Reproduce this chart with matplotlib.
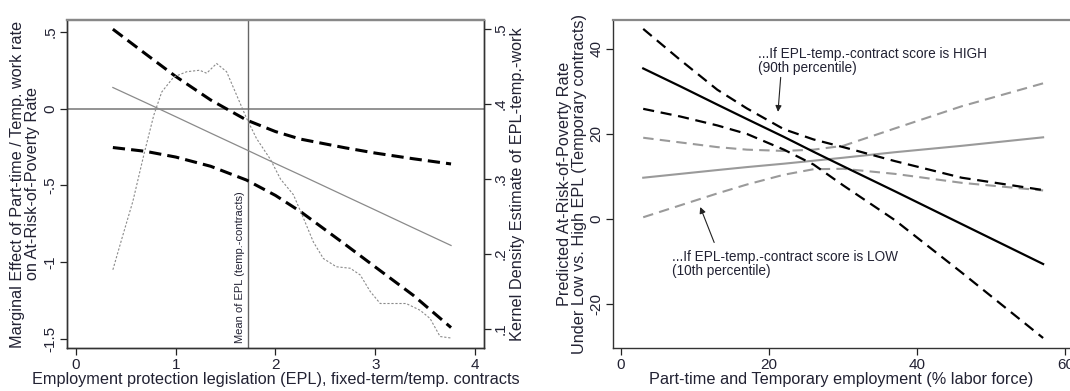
"""Two-panel marginal effect / predicted value figure (Stata-like look)."""

import numpy as np
import matplotlib as mpl
import matplotlib.pyplot as plt

mpl.rcParams.update({
    "font.family": ["Liberation Sans", "DejaVu Sans"],
    "font.size": 11,
    "axes.labelsize": 11.7,
    "xtick.labelsize": 11,
    "ytick.labelsize": 11,
    "text.color": "#222233",
    "axes.labelcolor": "#222233",
    "xtick.color": "#222222",
    "ytick.color": "#222222",
    "xtick.labelcolor": "#222233",
    "ytick.labelcolor": "#222233",
})

# ---- left panel data: marginal effect over EPL ----
epl = [0.37, 0.70, 1.00, 1.35, 1.71, 2.00, 2.25, 2.70, 3.00, 3.38, 3.76]
me_mid = [0.138, 0.039, -0.052, -0.159, -0.268, -0.357, -0.432, -0.569, -0.660, -0.776, -0.891]
me_hi = [0.518, 0.356, 0.210, 0.057, -0.074, -0.149, -0.198, -0.255, -0.289, -0.326, -0.360]
me_lo = [-0.253, -0.278, -0.315, -0.375, -0.465, -0.565, -0.670, -0.885, -1.031, -1.215, -1.426]
epl_mean = 1.72

kd_x = [0.37, 0.47, 0.57, 0.68, 0.78, 0.86, 0.98, 1.11, 1.24, 1.31, 1.41, 1.51,
        1.61, 1.71, 1.81, 1.95, 2.05, 2.18, 2.28, 2.38, 2.48, 2.61, 2.75, 2.85,
        2.95, 3.05, 3.18, 3.31, 3.45, 3.55, 3.65, 3.76]
kd_y = [0.179, 0.225, 0.270, 0.332, 0.385, 0.416, 0.436, 0.443, 0.445, 0.441, 0.454, 0.443,
        0.412, 0.381, 0.354, 0.326, 0.300, 0.279, 0.248, 0.216, 0.194, 0.183, 0.181, 0.172,
        0.150, 0.134, 0.134, 0.134, 0.125, 0.114, 0.090, 0.088]

# ---- right panel data: predicted poverty rate ----
ptemp = [3, 8, 13, 17, 22, 26, 30, 37, 46, 57]
high_mid = [35.4, 31.2, 26.9, 23.5, 19.3, 15.8, 12.4, 6.5, -1.2, -10.6]
high_up = [44.7, 37.4, 30.4, 26.0, 21.1, 18.7, 16.9, 13.6, 9.7, 6.8]
high_lo = [25.9, 24.1, 22.0, 20.0, 16.3, 12.8, 7.9, -0.3, -12.6, -28.0]
low_mid = [9.7, 10.6, 11.5, 12.2, 13.0, 13.7, 14.4, 15.7, 17.2, 19.2]
low_up = [19.1, 18.0, 16.9, 16.3, 16.0, 16.3, 17.2, 21.3, 26.5, 31.9]
low_lo = [0.4, 3.2, 6.0, 8.1, 10.4, 11.7, 11.8, 10.6, 8.5, 6.7]

BLACK = "#000000"
GRAY = "#9a9a9a"
AXC = "#333333"


def frame(ax, right=True):
    for s in ("left", "bottom"):
        ax.spines[s].set_color(AXC)
        ax.spines[s].set_linewidth(1.0)
    ax.spines["top"].set_color("#888888")
    ax.spines["top"].set_linewidth(1.6)
    if right:
        ax.spines["right"].set_color(AXC)
        ax.spines["right"].set_linewidth(1.0)
    else:
        ax.spines["right"].set_visible(False)
    ax.tick_params(direction="out", length=5, width=0.9, pad=2)


fig = plt.figure(figsize=(10.7, 3.91), dpi=100)

# ---------------- left panel ----------------
ax = fig.add_axes([0.0626, 0.110, 0.3897, 0.8389])
frame(ax)
ax.axhline(0, color="#8a8a8a", lw=1.3, zorder=1)
ax.axvline(epl_mean, color="#666666", lw=1.0, zorder=1)
ax.plot(epl, me_mid, color="#8a8a8a", lw=0.9)
ax.plot(epl, me_hi, color=BLACK, lw=2.2, ls=(0, (4, 2)))
ax.plot(epl, me_lo, color=BLACK, lw=2.2, ls=(0, (4, 2)))
ax.set_xlim(-0.09, 4.09)
ax.set_ylim(-1.559, 0.578)
ax.set_xticks([0, 1, 2, 3, 4])
ax.set_yticks([0.5, 0, -0.5, -1, -1.5])
ax.set_yticklabels([".5", "0", "-.5", "-1", "-1.5"], rotation=90, va="center")
ax.set_xlabel("Employment protection legislation (EPL), fixed-term/temp. contracts",
              labelpad=0)
ax.set_ylabel("Marginal Effect of Part-time / Temp. work rate\non At-Risk-of-Poverty Rate",
              labelpad=2, linespacing=1.0)
ax.text(epl_mean - 0.03, -1.525, "Mean of EPL (temp.-contracts)", rotation=90,
        ha="right", va="bottom", fontsize=8)

ax2 = ax.twinx()
ax2.set_position(ax.get_position())
frame(ax2)
ax2.plot(kd_x, kd_y, color="#8a8a8a", lw=0.8, ls=(0, (2, 1.6)))
ax2.set_ylim(0.0747, 0.512)
ax2.set_yticks([0.5, 0.4, 0.3, 0.2, 0.1])
ax2.set_yticklabels([".5", ".4", ".3", ".2", ".1"], rotation=90, va="center")
ax2.set_ylabel("Kernel Density Estimate of EPL-temp.-work", labelpad=2)

# ---------------- right panel ----------------
bx = fig.add_axes([0.5729, 0.110, 0.4262, 0.8389])
frame(bx, right=False)
bx.plot(ptemp, low_mid, color=GRAY, lw=1.5)
bx.plot(ptemp, low_up, color=GRAY, lw=1.5, ls=(0, (5, 3)))
bx.plot(ptemp, low_lo, color=GRAY, lw=1.5, ls=(0, (5, 3)))
bx.plot(ptemp, high_mid, color=BLACK, lw=1.6)
bx.plot(ptemp, high_up, color=BLACK, lw=1.6, ls=(0, (5, 3)))
bx.plot(ptemp, high_lo, color=BLACK, lw=1.6, ls=(0, (5, 3)))
bx.set_xlim(-1.08, 60.5)
bx.set_ylim(-30.35, 46.8)
bx.set_xticks([0, 20, 40, 60])
bx.set_yticks([40, 20, 0, -20])
bx.set_yticklabels(["40", "20", "0", "-20"], rotation=90, va="center")
bx.set_xlabel("Part-time and Temporary employment (% labor force)", labelpad=0)
bx.set_ylabel("Predicted At-Risk-of-Poverty Rate\nUnder Low vs. High EPL (Temporary contracts)",
              labelpad=2, linespacing=1.0)

bx.annotate("...If EPL-temp.-contract score is HIGH\n(90th percentile)",
            xy=(21.2, 25.2), xytext=(18.5, 40.4), ha="left", va="top",
            fontsize=9.8, linespacing=0.95,
            arrowprops=dict(arrowstyle="-|>", color="#222222", lw=0.8,
                            mutation_scale=9, shrinkA=0, shrinkB=0,
                            relpos=(0.1, 0.0)))
bx.annotate("...If EPL-temp.-contract score is LOW\n(10th percentile)",
            xy=(10.7, 2.8), xytext=(6.9, -7.4), ha="left", va="top",
            fontsize=9.8, linespacing=0.95,
            arrowprops=dict(arrowstyle="-|>", color="#222222", lw=0.8,
                            mutation_scale=9, shrinkA=4, shrinkB=0,
                            relpos=(0.2, 1.0)))

fig.savefig("out.png", dpi=100)
